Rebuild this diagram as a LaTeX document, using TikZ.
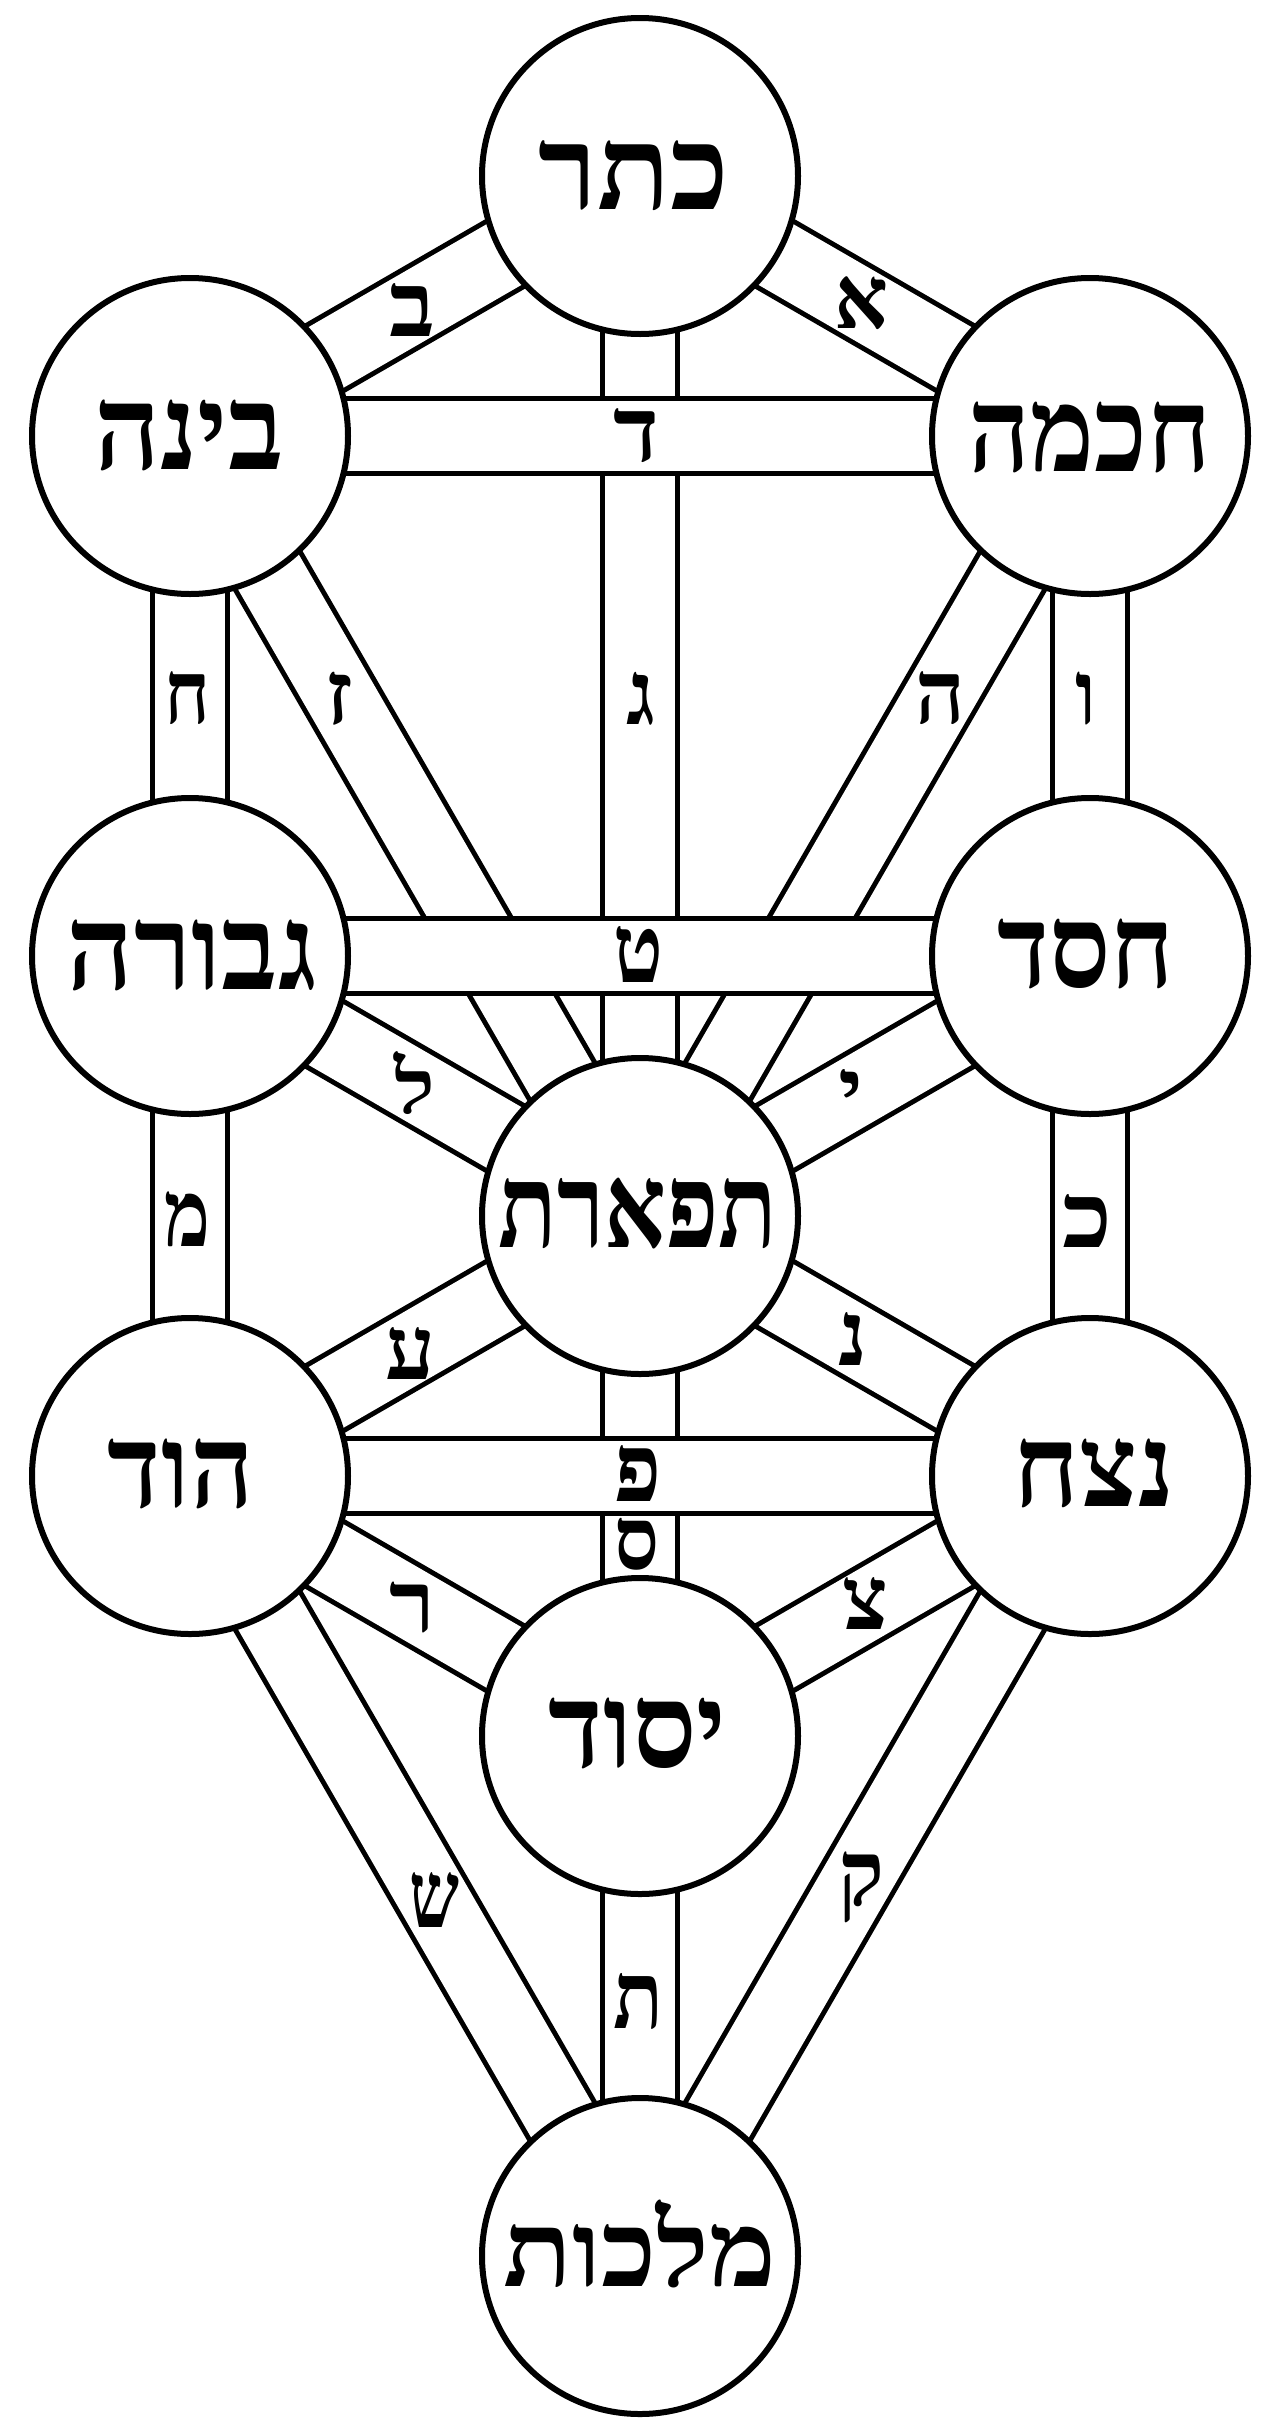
\documentclass[tikz,border=0pt]{standalone}
\usepackage{fontspec}
\usepackage{graphicx}
\TeXXeTstate=1
\newfontfamily\heb[Script=Hebrew]{Liberation Serif}
\newcommand{\hbw}[3]{\resizebox*{#1pt}{#2pt}{\heb\bfseries\fontsize{100}{100}\selectfont\beginR #3\endR}}
\begin{document}
\begin{tikzpicture}[x=1pt,y=-1pt,
  band/.style={line width=5pt, double=white, double distance=70pt},
  sephira/.style={circle, draw, line width=6pt, fill=white, minimum size=316pt, inner sep=0pt},
  sname/.style={anchor=center, inner sep=0pt},
  letter/.style={anchor=center, inner sep=0pt}]
\useasboundingbox (0,0) rectangle (1280,2431);
% centres
\coordinate (cK) at (640,176);
\coordinate (cCh) at (1090,436);
\coordinate (cB) at (190,436);
\coordinate (cCe) at (1090,956);
\coordinate (cG) at (190,956);
\coordinate (cT) at (640,1216);
\coordinate (cN) at (1090,1476);
\coordinate (cH) at (190,1476);
\coordinate (cY) at (640,1736);
\coordinate (cM) at (640,2256);
% paths (non-horizontal first)
\draw[band] (cK) -- (cCh);
\draw[band] (cK) -- (cB);
\draw[band] (cK) -- (cT);
\draw[band] (cCh) -- (cT);
\draw[band] (cCh) -- (cCe);
\draw[band] (cB) -- (cT);
\draw[band] (cB) -- (cG);
\draw[band] (cCe) -- (cT);
\draw[band] (cCe) -- (cN);
\draw[band] (cG) -- (cT);
\draw[band] (cG) -- (cH);
\draw[band] (cT) -- (cN);
\draw[band] (cT) -- (cY);
\draw[band] (cT) -- (cH);
\draw[band] (cN) -- (cY);
\draw[band] (cN) -- (cM);
\draw[band] (cH) -- (cY);
\draw[band] (cH) -- (cM);
\draw[band] (cY) -- (cM);
% horizontal paths on top
\draw[band] (cCh) -- (cB);
\draw[band] (cCe) -- (cG);
\draw[band] (cN) -- (cH);
% sephirot
\node[sephira] (K) at (cK) {};
\node[sephira] (Ch) at (cCh) {};
\node[sephira] (B) at (cB) {};
\node[sephira] (Ce) at (cCe) {};
\node[sephira] (G) at (cG) {};
\node[sephira] (T) at (cT) {};
\node[sephira] (N) at (cN) {};
\node[sephira] (H) at (cH) {};
\node[sephira] (Y) at (cY) {};
\node[sephira] (M) at (cM) {};
% names
\node[sname] (nK) at (634,176) {\hbw{191}{70}{כתר}};
\node[sname] (nCh) at (1090,437) {\hbw{243}{71}{חכמה}};
\node[sname] (nB) at (189,435.5) {\hbw{190}{71}{בינה}};
\node[sname] (nCe) at (1086,954) {\hbw{177}{70}{חסד}};
\node[sname] (nG) at (192,955) {\hbw{251}{71}{גבורה}};
\node[sname] (nT) at (638,1214) {\hbw{279}{71}{תפארת}};
\node[sname] (nN) at (1094,1473.5) {\hbw{161}{69}{נצח}};
\node[sname] (nH) at (181,1474) {\hbw{146}{70}{הוד}};
\node[sname] (nY) at (637.5,1733) {\hbw{178}{71}{יסוד}};
\node[sname] (nM) at (640,2244) {\hbw{273}{88}{מלכות}};
% letters
\node[letter] (lA) at (861.5,303.5) {\hbw{54}{53}{א}};
\node[letter] (lB) at (412,309.5) {\hbw{46}{53}{ב}};
\node[letter] (lD) at (636.5,436) {\hbw{46}{54}{ד}};
\node[letter] (lG) at (641,698.5) {\hbw{29}{53}{ג}};
\node[letter] (lHe) at (940.5,698.5) {\hbw{50}{53}{ה}};
\node[letter] (lV) at (1086,698.5) {\hbw{21}{53}{ו}};
\node[letter] (lZ) at (339,698.5) {\hbw{29}{53}{ז}};
\node[letter] (lCh) at (187.5,698.5) {\hbw{46}{53}{ח}};
\node[letter] (lTe) at (638.5,954) {\hbw{50}{56}{ט}};
\node[letter, anchor=base] (lY) at (851,1116) {\hbw{25}{47}{י}};
\node[letter] (lL) at (415,1083.5) {\hbw{41}{63}{ל}};
\node[letter] (lK) at (1087.5,1220.5) {\hbw{50}{53}{כ}};
\node[letter] (lM) at (187.5,1219.5) {\hbw{46}{55}{מ}};
\node[letter] (lN) at (853,1338.5) {\hbw{29}{53}{נ}};
\node[letter] (lS) at (637.3,1544.5) {\hbw{45}{52}{ס}};
\node[letter] (lAy) at (410.5,1353) {\hbw{50}{52}{ע}};
\node[letter] (lP) at (637.5,1473.8) {\hbw{47}{56}{פ}};
\node[letter] (lTs) at (865.5,1603) {\hbw{46}{52}{צ}};
\node[letter] (lQ) at (861.5,1887.5) {\hbw{46}{71}{ק}};
\node[letter] (lR) at (412.5,1607.5) {\hbw{46}{51}{ר}};
\node[letter] (lSh) at (434.5,1899.5) {\hbw{50}{55}{ש}};
\node[letter] (lT) at (638.5,2001) {\hbw{50}{56}{ת}};
\end{tikzpicture}
\end{document}
